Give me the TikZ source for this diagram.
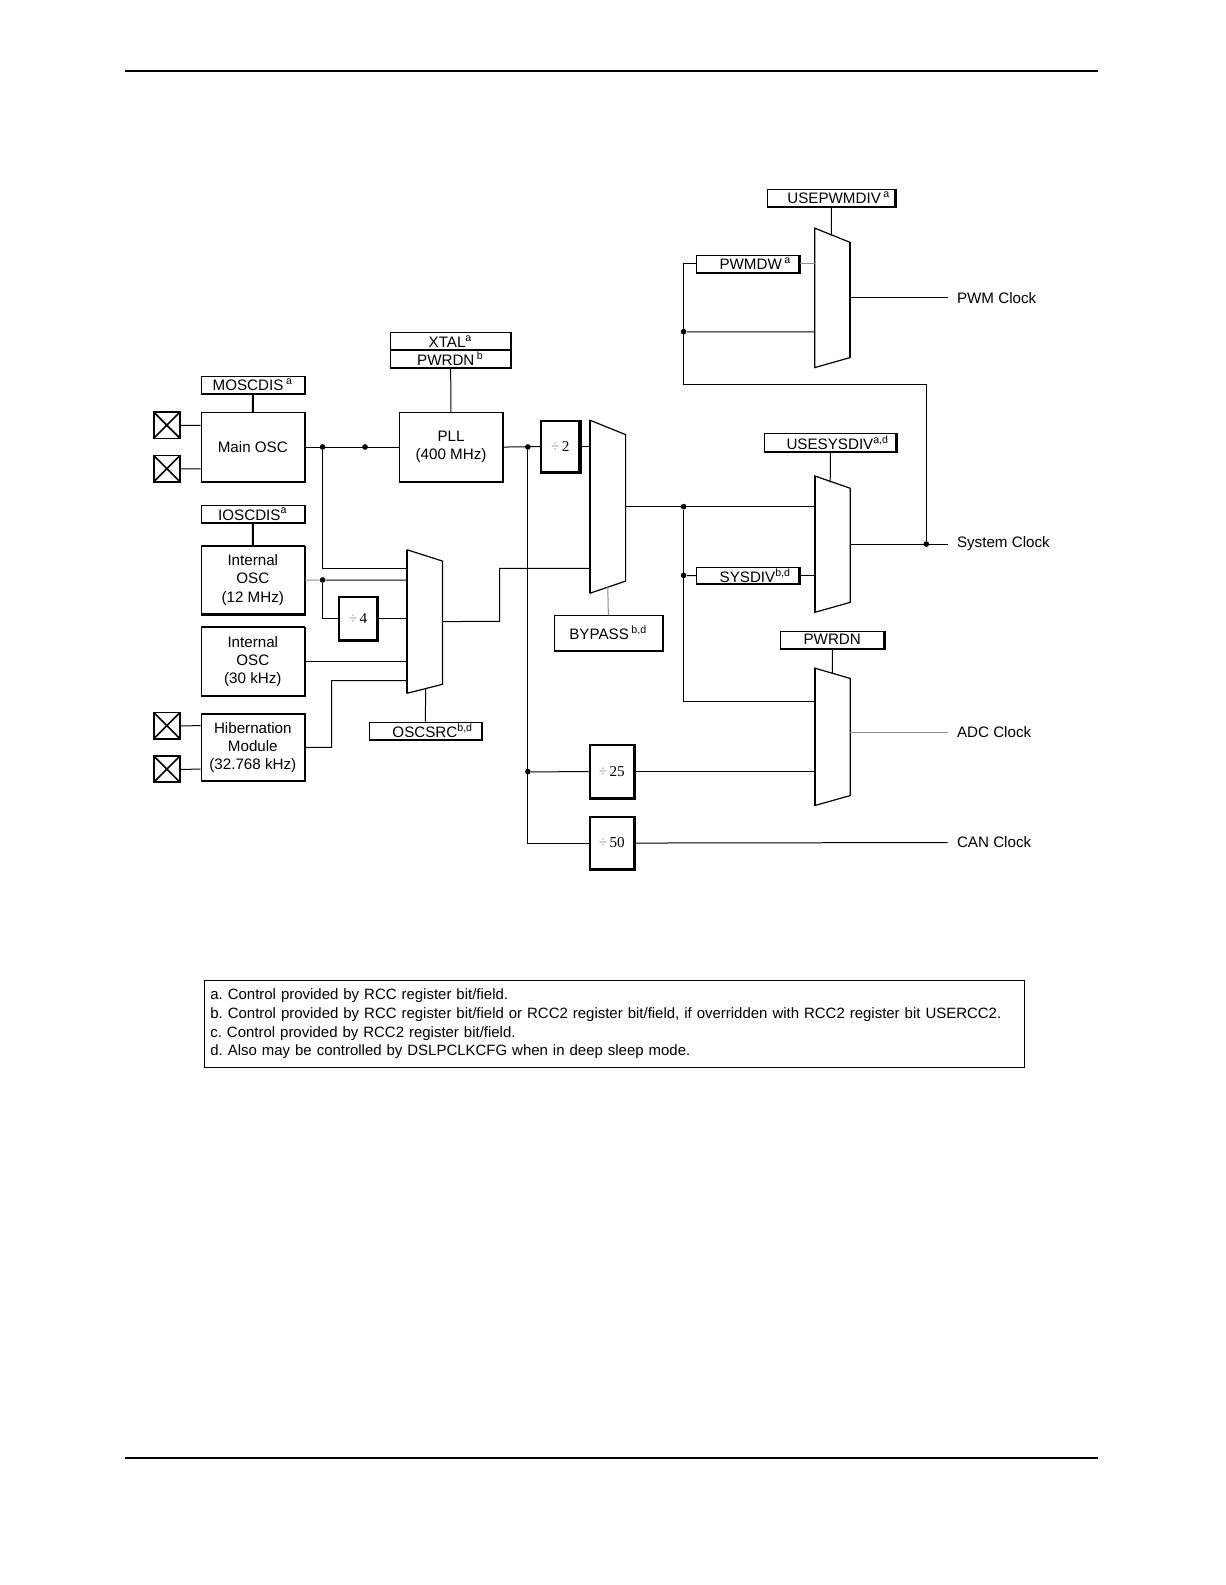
\documentclass[tikz,border=0pt]{standalone}
\usepackage{fontspec}
\setmainfont{Liberation Sans}
\newfontfamily\divfont{Liberation Serif}
\usetikzlibrary{calc}

\tikzset{
  blk/.style={draw, line width=0.6pt, minimum width=51pt, minimum height=34pt,
    align=center, inner sep=0pt, font=\fontsize{7.5}{9}\selectfont},
  reg/.style={draw, line width=0.5pt, minimum height=8.5pt, inner sep=0pt,
    font=\fontsize{7.5}{8}\selectfont},
  divbox/.style={draw, line width=1pt, minimum width=19pt, minimum height=25.5pt,
    inner sep=0pt, font=\divfont\fontsize{7.5}{8}\selectfont},
  xtal/.style={draw, line width=0.8pt, minimum size=13pt, inner sep=0pt,
    path picture={\draw (path picture bounding box.north west) -- (path picture bounding box.south east)
      (path picture bounding box.south west) -- (path picture bounding box.north east);}},
  muxbox/.style={draw=none, minimum width=17pt, inner sep=0pt},
  dot/.style={circle, fill, inner sep=0pt, minimum size=2.8pt},
  wire/.style={line width=0.5pt},
  faint/.style={line width=0.5pt, draw=black!45},
  heavy/.style={line width=1.1pt},
  outlbl/.style={anchor=west, inner sep=0pt, font=\fontsize{7.5}{9}\selectfont},
}

% trapezoid of a mux: name, top drop, bottom rise (pixels)
\newcommand{\drawmux}[3]{%
  \coordinate (#1-ne) at ($(#1.north east)+(0,#2)$);
  \coordinate (#1-se) at ($(#1.south east)+(0,-#3)$);
  \draw[line width=0.6pt] (#1-ne) -- (#1.north west) -- (#1.south west) -- (#1-se) -- cycle;}
\newcommand{\dv}[1]{{\color{black!45}÷}\,#1}

\begin{document}
\begin{tikzpicture}[x=0.5pt, y=-0.5pt, scale=1.0112, every node/.append style={transform shape}]
  \useasboundingbox (0,0) rectangle (1211.4,1567.4);

  % page rules
  \draw[line width=1pt] (124,70) -- (1086,70);
  \draw[line width=1pt] (124,1442) -- (1086,1442);

  % oscillators
  \node[reg, minimum width=51pt] (moscdis) at (250,380.5) {MOSCDIS\,\textsuperscript{a}};
  \node[blk] (mosc) at (250,442) {Main OSC};
  \node[xtal] (x1) at (165,420.5) {};
  \node[xtal] (x2) at (165,463.5) {};
  \node[reg, minimum width=51pt] (ioscdis) at (250,508.5) {IOSCDIS\textsuperscript{a}};
  \node[blk, minimum height=33.5pt] (iosc12) at (250,573.5) {Internal\\OSC\\(12 MHz)};
  \node[blk] (iosc30) at (250,654) {Internal\\OSC\\(30 kHz)};
  \node[blk, minimum height=33pt] (hib) at (250,739) {Hibernation\\Module\\(32.768 kHz)};
  \node[xtal] (x3) at (165,717.5) {};
  \node[xtal] (x4) at (165,760.5) {};

  % pll and dividers
  \node[reg, minimum width=59.5pt] (xtalreg) at (445.5,337.5) {XTAL\textsuperscript{a}};
  \node[reg, minimum width=59.5pt] (pwrdnpll) at (445.5,354.5) {PWRDN\,\textsuperscript{b}};
  \node[blk] (pll) at (446,442) {PLL\\(400 MHz)};
  \node[divbox] (div2) at (554,441.5) {\dv{2}};
  \node[divbox, minimum height=21.5pt] (div4) at (354,611.5) {\dv{4}};
  \node[divbox, minimum width=22pt, minimum height=26pt] (div25) at (605,763) {\dv{25}};
  \node[divbox, minimum width=22pt, minimum height=25.5pt] (div50) at (605,833.5) {\dv{50}};

  % muxes
  \node[muxbox, minimum height=70.5pt] (oscmux) at (420,614.5) {};
  \node[reg, minimum width=55.5pt] (oscsrc) at (420.5,722.5) {\quad OSCSRC\textsuperscript{b,d}};
  \node[muxbox, minimum height=85pt] (bymux) at (601,501) {};
  \node[reg, minimum width=53.5pt, minimum height=17pt] (bypass) at (601.5,626) {BYPASS\,\textsuperscript{b,d}};
  \node[muxbox, minimum height=68.5pt] (pwmmux) at (823,294.5) {};
  \node[reg, minimum width=63pt] (usepwmdiv) at (822,195.5) {\quad USEPWMDIV\,\textsuperscript{a}};
  \node[reg, minimum width=50.5pt, minimum height=8pt] (pwmdw) at (739.5,261) {\quad PWMDW\,\textsuperscript{a}};
  \node[muxbox, minimum height=67pt] (sysmux) at (823,538) {};
  \node[reg, minimum width=65pt] (usesysdiv) at (821,437.5) {\quad USESYSDIV\textsuperscript{a,d}};
  \node[reg, minimum width=50.5pt, minimum height=8pt] (sysdiv) at (739.5,569) {\quad SYSDIV\textsuperscript{b,d}};
  \node[muxbox, minimum height=67.5pt] (adcmux) at (823,728.5) {};
  \node[reg, minimum width=51pt] (pwrdnadc) at (823,632.5) {PWRDN};
  \drawmux{oscmux}{11}{9}
  \drawmux{bymux}{14}{12}
  \drawmux{pwmmux}{14}{10}
  \drawmux{sysmux}{12}{10}
  \drawmux{adcmux}{10}{10}
  \draw[line width=0.9pt] (oscmux.north west) -- (oscmux.south west) (oscmux-ne) -- (oscmux-se);
  \draw[heavy] (bymux.north west) -- (bymux.south west);
  \draw[heavy] (sysmux.north west) -- (sysmux.south west);
  \draw[heavy] (adcmux.north west) -- (adcmux.south west);
  \draw[heavy] (pwmmux-ne) -- (pwmmux-se);

  % heavier right and bottom edges
  \foreach \n in {mosc,iosc12,iosc30,hib,pll,div2,div4,div25,div50,moscdis,ioscdis,xtalreg,pwrdnpll,oscsrc,bypass,usepwmdiv,pwmdw,usesysdiv,sysdiv,pwrdnadc}
    \draw[line width=1pt] (\n.north east) -- (\n.south east) -- (\n.south west);

  % output labels
  \node[outlbl] (pwmclk) at (946,294.5) {PWM Clock};
  \node[outlbl] (sysclk) at (946,538) {System Clock};
  \node[outlbl] (adcclk) at (946,724) {ADC Clock};
  \node[outlbl] (canclk) at (946,833) {CAN Clock};
  \coordinate (pwmend) at (937,294.5);
  \coordinate (sysend) at (937,538);
  \coordinate (adcend) at (937,724);
  \coordinate (canend) at (937,833);

  % junctions
  \node[dot] (j1) at (319,442) {};
  \node[dot] (j2) at (361,442) {};
  \node[dot] (j3) at (522,442) {};
  \node[dot] (j4) at (522,763) {};
  \node[dot] (j5) at (319,573.5) {};
  \node[dot] (j6) at (676,501) {};
  \node[dot] (j7) at (676,569) {};
  \node[dot] (j8) at (676,328) {};
  \node[dot] (j9) at (916,538) {};

  % crystals
  \draw[wire] (x1) -- (x1 -| mosc.west);
  \draw[wire] (x2) -- (x2 -| mosc.west);
  \draw[wire] (x3) -- (x3 -| hib.west);
  \draw[wire] (x4) -- (x4 -| hib.west);

  % control lines
  \draw[line width=1pt] (moscdis) -- (mosc);
  \draw[line width=1pt] (ioscdis) -- (iosc12);
  \draw[wire] (pwrdnpll) -- (pll);
  \draw[wire] (oscsrc.north) -- (421,681);
  \draw[faint] (bypass.north) -- (601,580);
  \draw[wire] (usepwmdiv.south) -- (822,233);
  \draw[wire] (usesysdiv.south) -- (821,477);
  \draw[wire] (pwrdnadc.south) -- (823,666);

  % main clock path
  \draw[wire] (mosc.east) -- (pll.west);
  \draw[wire] (pll.east) -- (div2.west);
  \draw[wire] (div2.east) -- (div2.east -| bymux.west);
  \draw[wire] (j3) |- (div50.west);
  \draw[wire] (j4) -- (div25.west);
  \draw[wire] (div25.east) -- (div25.east -| adcmux.west);
  \draw[wire] (div50.east) -- (canend);

  % osc source mux
  \draw[wire] (j1) |- (oscmux.west |- 0,562);
  \draw[faint] (iosc12.east) -- (j5);
  \draw[wire] (j5) -- (oscmux.west |- j5);
  \draw[wire] (j5) |- (div4.west);
  \draw[wire] (div4.east) -- (oscmux.west |- div4.east);
  \draw[wire] (iosc30.east) -- (oscmux.west |- iosc30.east);
  \draw[wire] (hib.east) -- (328,739) |- (oscmux.west |- 0,673);
  \draw[wire] (oscmux.east) -- (494,614.5) |- (bymux.west |- 0,562);

  % system clock
  \draw[wire] (bymux.east) -- (sysmux.west |- bymux.east);
  \draw[wire] (j6) |- (adcmux.west |- 0,694);
  \draw[wire] (j7) -- (sysdiv.west);
  \draw[wire] (sysdiv.east) -- (sysmux.west |- sysdiv.east);
  \draw[wire] (sysmux.east) -- (sysend);
  \draw[faint] (adcmux.east |- adcend) -- (adcend);

  % pwm clock
  \draw[wire] (j9) |- (676,380) |- (pwmdw.west);
  \draw[faint] (pwmdw.east) -- (pwmmux.west |- pwmdw.east);
  \draw[wire] (j8) -- (pwmmux.west |- j8);
  \draw[wire] (pwmmux.east) -- (pwmend);

  % notes
  \node[draw, line width=0.5pt, anchor=north west, minimum width=405.5pt, minimum height=43pt,
    text width=400pt, inner xsep=2.5pt, inner ysep=3pt, align=left,
    font=\fontsize{7.4}{9.2}\selectfont\frenchspacing] (notes) at (202,969) {%
    a. Control provided by RCC register bit/field.\\
    b. Control provided by RCC register bit/field or RCC2 register bit/field, if overridden with RCC2 register bit USERCC2.\\
    c. Control provided by RCC2 register bit/field.\\
    d. Also may be controlled by DSLPCLKCFG when in deep sleep mode.};
\end{tikzpicture}
\end{document}
